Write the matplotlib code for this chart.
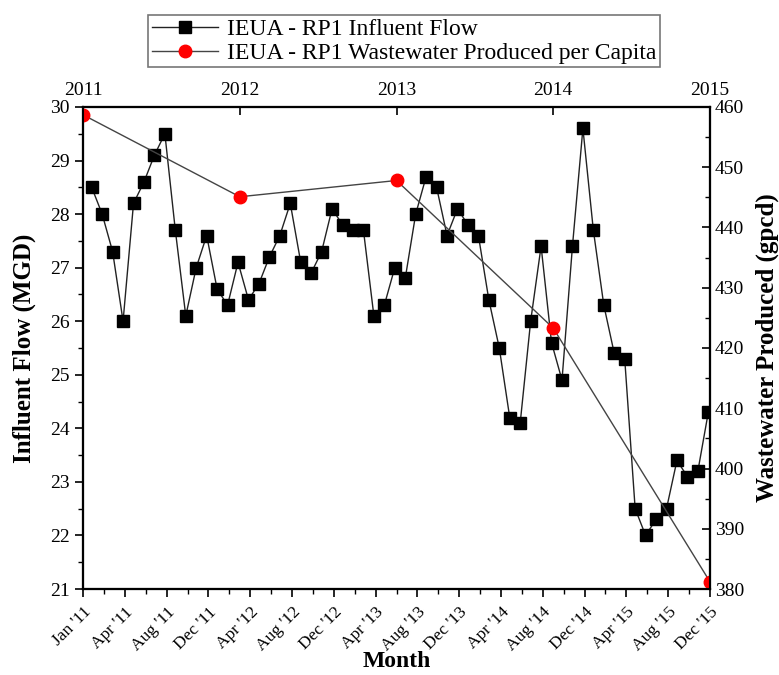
import matplotlib
matplotlib.use("Agg")
import matplotlib.pyplot as plt
import numpy as np

# monthly influent flow, Jan 2011 - Dec 2015 (MGD)
influent_flow = [28.5, 28.0, 27.3, 26.0, 28.2, 28.6, 29.1, 29.5, 27.7, 26.1, 27.0, 27.6,
                 26.6, 26.3, 27.1, 26.4, 26.7, 27.2, 27.6, 28.2, 27.1, 26.9, 27.3, 28.1,
                 27.8, 27.7, 27.7, 26.1, 26.3, 27.0, 26.8, 28.0, 28.7, 28.5, 27.6, 28.1,
                 27.8, 27.6, 26.4, 25.5, 24.2, 24.1, 26.0, 27.4, 25.6, 24.9, 27.4, 29.6,
                 27.7, 26.3, 25.4, 25.3, 22.5, 22.0, 22.3, 22.5, 23.4, 23.1, 23.2, 24.3]

# yearly wastewater produced per capita (gpcd)
years = [2011, 2012, 2013, 2014, 2015]
gpcd = [458.7, 445.1, 447.8, 423.3, 381.2]

month_labels = ["Jan '11", "Apr '11", "Aug '11", "Dec '11", "Apr '12", "Aug '12", "Dec '12",
                "Apr '13", "Aug '13", "Dec '13", "Apr '14", "Aug '14", "Dec '14",
                "Apr '15", "Aug '15", "Dec '15"]

plt.rcParams['font.family'] = ['Liberation Serif', 'DejaVu Serif']
plt.rcParams['font.size'] = 14

fig = plt.figure(figsize=(7.79, 6.75), dpi=100)
ax = fig.add_axes([0.1066, 0.1274, 0.8048, 0.7141])

x = np.arange(len(influent_flow))
xmin, xmax = -0.83, 59.16
l1, = ax.plot(x, influent_flow, color='#222222', lw=1.0, marker='s', markersize=8,
              markerfacecolor='black', markeredgecolor='black',
              label='IEUA - RP1 Influent Flow')
ax.set_xlim(xmin, xmax)
ax.set_ylim(21, 30)
ax.set_yticks(np.arange(21, 31, 1))
ax.set_yticks(np.arange(21, 30.01, 0.5), minor=True)
major = np.linspace(xmin, xmax, len(month_labels))
ax.set_xticks(major)
ax.set_xticklabels(month_labels, rotation=45, ha='right', rotation_mode='anchor', fontsize=12.5)
ax.set_xticks((major[:-1] + major[1:]) / 2, minor=True)
ax.tick_params(which='major', direction='out', length=6, width=1.2)
ax.tick_params(axis='x', which='major', pad=5)
ax.tick_params(which='minor', direction='out', length=3.5, width=1.0)
ax.set_xlabel('Month', fontweight='bold', fontsize=17)
ax.xaxis.set_label_coords(0.5, -0.128)
ax.set_ylabel('Influent Flow (MGD)', fontweight='bold', fontsize=18, labelpad=10)

# right axis for per-capita values
ax2 = ax.twinx()
ax2.set_ylim(380, 460)
ax2.set_yticks(np.arange(380, 461, 10))
ax2.set_yticks(np.arange(380, 461, 5), minor=True)
ax2.tick_params(which='major', direction='in', length=6, width=1.2)
ax2.tick_params(which='minor', direction='in', length=3.5, width=1.0)
ax2.set_ylabel('Wastewater Produced (gpcd)', fontweight='bold', fontsize=18, labelpad=8)

# top axis in years
ax3 = ax2.twiny()
ax3.set_xlim(2011, 2015)
ax3.set_xticks(years)
ax3.tick_params(which='major', direction='in', length=6, width=1.2, pad=6)
l2, = ax3.plot(years, gpcd, color='#444444', lw=1.0, marker='o', markersize=9,
               markerfacecolor='red', markeredgecolor='red',
               label='IEUA - RP1 Wastewater Produced per Capita')
ax3.set_ylim(380, 460)

for a in (ax, ax2, ax3):
    for s in a.spines.values():
        s.set_linewidth(1.5)

leg = fig.legend(handles=[l1, l2], loc='upper center', bbox_to_anchor=(0.519, 0.985),
                 fontsize=17, frameon=True, fancybox=False, edgecolor='#555555',
                 borderpad=0.15, labelspacing=0.1, handlelength=2.8, handletextpad=0.4,
                 borderaxespad=0.2)
leg.get_frame().set_linewidth(1.2)

fig.savefig('out.png', dpi=100)
